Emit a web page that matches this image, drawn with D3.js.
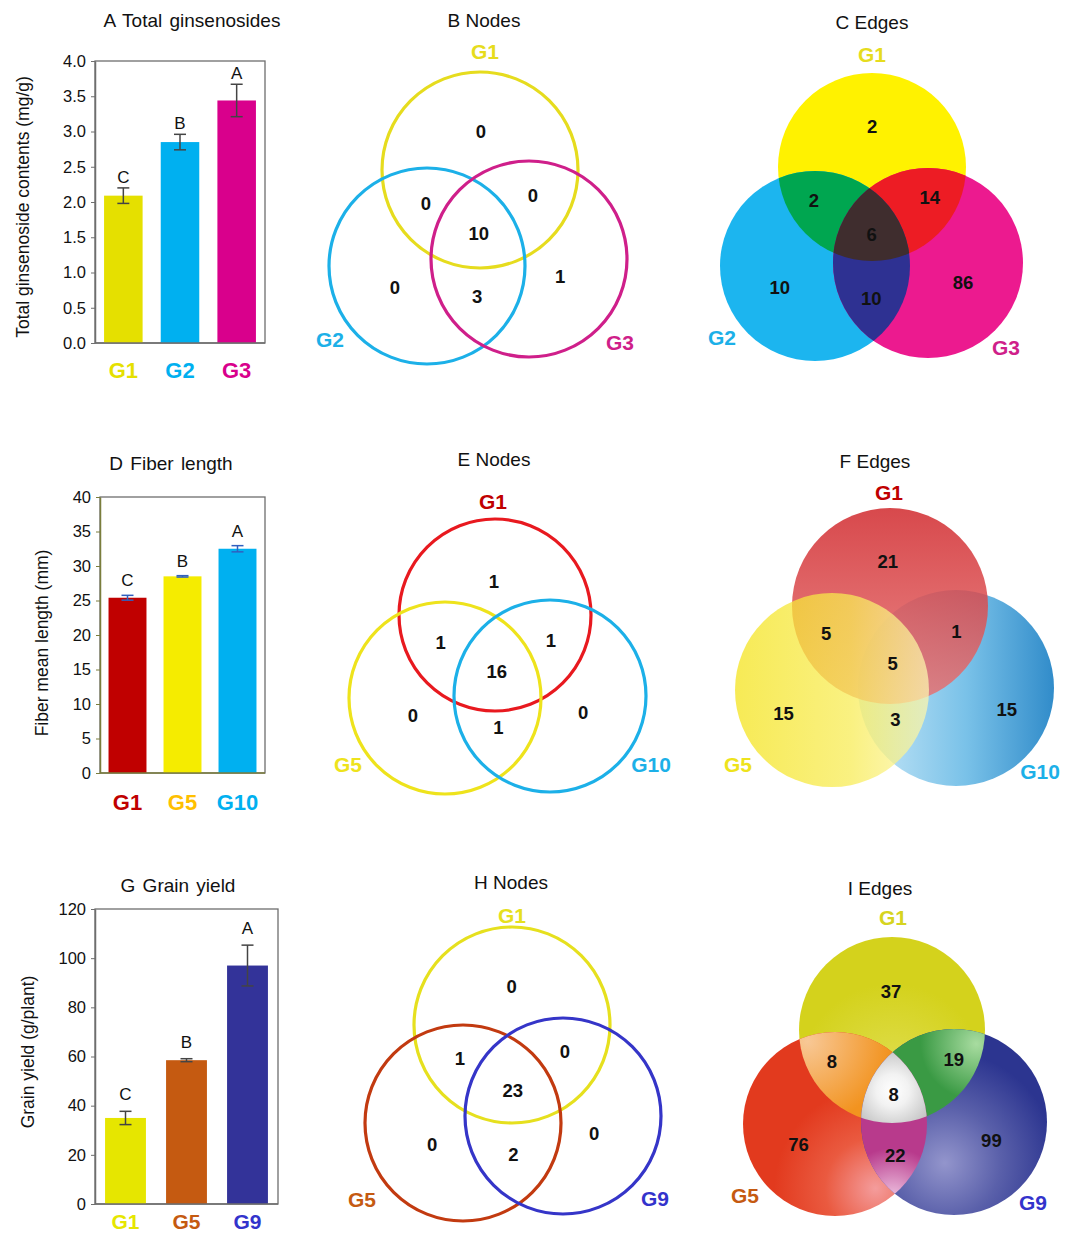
<!DOCTYPE html>
<html><head><meta charset="utf-8">
<script src="https://cdn.jsdelivr.net/npm/d3@7"></script>
<style>
body{margin:0;background:#fff}
svg{display:block}
text{font-family:"Liberation Sans",Arial,sans-serif}
</style>
</head><body>
<svg id="chart" width="1077" height="1236"></svg>
<script>
// ---------- DATA ----------
// Panel A: Total ginsenosides
const aCategories = ["G1", "G2", "G3"];
const aValues = [2.09, 2.85, 3.44];
const aErrors = [0.11, 0.11, 0.23];
const aLetters = ["C", "B", "A"];
const aTicks = [0, 0.5, 1.0, 1.5, 2.0, 2.5, 3.0, 3.5, 4.0];
// Panel D: Fiber length
const dCategories = ["G1", "G5", "G10"];
const dValues = [25.4, 28.5, 32.5];
const dErrors = [0.35, 0.1, 0.45];
const dLetters = ["C", "B", "A"];
const dTicks = [0, 5, 10, 15, 20, 25, 30, 35, 40];
// Panel G: Grain yield
const gCategories = ["G1", "G5", "G9"];
const gValues = [35, 58.5, 97];
const gErrors = [2.7, 0.6, 8.3];
const gLetters = ["C", "B", "A"];
const gTicks = [0, 20, 40, 60, 80, 100, 120];

// Venn counts, region order: [only1, only2, only3, 1&2, 1&3, 2&3, all]
const bSets = ["G1", "G2", "G3"];
const bCounts = [0, 0, 1, 0, 0, 3, 10];
const cSets = ["G1", "G2", "G3"];
const cCounts = [2, 10, 86, 2, 14, 10, 6];
const eSets = ["G1", "G5", "G10"];
const eCounts = [1, 0, 0, 1, 1, 1, 16];
const fSets = ["G1", "G5", "G10"];
const fCounts = [21, 15, 15, 5, 1, 3, 5];
const hSets = ["G1", "G5", "G9"];
const hCounts = [0, 0, 0, 1, 0, 2, 23];
const iSets = ["G1", "G5", "G9"];
const iCounts = [37, 76, 99, 8, 19, 22, 8];

// ---------- DRAWING ----------
const svg = d3.select("#chart");
svg.append("rect").attr("width", 1077).attr("height", 1236).attr("fill", "#fff");
const defs = svg.append("defs");
const FONT = '"Liberation Sans",Arial,sans-serif';

function barPanel(cfg) {
  const g = svg.append("g");
  const x = d3.scaleBand().domain(cfg.categories).range([cfg.x0, cfg.x1])
    .paddingInner(cfg.pad).paddingOuter(cfg.pad / 2);
  const y = d3.scaleLinear().domain([cfg.ticks[0], cfg.ticks[cfg.ticks.length - 1]]).range([cfg.y1, cfg.y0]);
  g.append("rect").attr("x", cfg.x0).attr("y", cfg.y0)
    .attr("width", cfg.x1 - cfg.x0).attr("height", cfg.y1 - cfg.y0)
    .attr("fill", "none").attr("stroke", "#6e6e6e").attr("stroke-width", 1.3);
  g.selectAll("rect.bar").data(cfg.values).enter().append("rect").attr("class", "bar")
    .attr("x", (d, i) => x(cfg.categories[i]))
    .attr("y", d => y(d))
    .attr("width", x.bandwidth())
    .attr("height", d => y(0) - y(d))
    .attr("fill", (d, i) => cfg.colors[i]);
  const ax = g.append("g").attr("transform", `translate(${cfg.x0},0)`)
    .call(d3.axisLeft(y).tickValues(cfg.ticks).tickFormat(cfg.fmt).tickSize(4).tickSizeOuter(0).tickPadding(5));
  ax.select(".domain").attr("stroke", cfg.axisColor).attr("stroke-width", 1.5);
  ax.selectAll(".tick line").attr("stroke", cfg.axisColor);
  ax.selectAll(".tick text").attr("font-size", 16.5).attr("fill", "#111").attr("font-family", FONT);
  g.append("line").attr("x1", cfg.x0).attr("x2", cfg.x1).attr("y1", cfg.y1).attr("y2", cfg.y1)
    .attr("stroke", cfg.axisColor).attr("stroke-width", 1.5);
  cfg.values.forEach((v, i) => {
    const cx = x(cfg.categories[i]) + x.bandwidth() / 2;
    const e = cfg.errors[i];
    const eg = g.append("g").attr("stroke", cfg.errColor).attr("stroke-width", 1.5);
    eg.append("line").attr("x1", cx).attr("x2", cx).attr("y1", y(v - e)).attr("y2", y(v + e));
    [v - e, v + e].forEach(t => eg.append("line").attr("x1", cx - 6).attr("x2", cx + 6).attr("y1", y(t)).attr("y2", y(t)));
    g.append("text").attr("x", cx).attr("y", y(v + e) - cfg.letterGap)
      .attr("text-anchor", "middle").attr("font-size", 17).attr("fill", "#111").text(cfg.letters[i]);
    g.append("text").attr("x", cx).attr("y", cfg.catY)
      .attr("text-anchor", "middle").attr("font-size", cfg.catSize || 22).attr("font-weight", "bold")
      .attr("fill", cfg.labelColors[i]).text(cfg.categories[i]);
  });
  g.append("text").attr("x", cfg.titleX).attr("y", cfg.titleY).attr("text-anchor", "middle")
    .attr("font-size", 19).attr("fill", "#111").attr("word-spacing", 2).text(cfg.title);
  g.append("text").attr("transform", `translate(${cfg.ylabX},${cfg.ylabY}) rotate(-90)`)
    .attr("text-anchor", "middle").attr("font-size", 17.5).attr("fill", "#111").text(cfg.ylab);
}

barPanel({
  categories: aCategories, values: aValues, errors: aErrors, letters: aLetters, ticks: aTicks,
  fmt: d3.format(".1f"), x0: 95, x1: 265, y0: 61, y1: 343, pad: 0.32,
  colors: ["#e5e000", "#00b0f0", "#d9008c"], labelColors: ["#e5e000", "#00b0f0", "#d9008c"],
  axisColor: "#6e6e6e", errColor: "#444", letterGap: 5, catY: 378,
  title: "A Total ginsenosides", titleX: 192, titleY: 27,
  ylab: "Total ginsenoside contents (mg/g)", ylabX: 29, ylabY: 207
});
barPanel({
  categories: dCategories, values: dValues, errors: dErrors, letters: dLetters, ticks: dTicks,
  fmt: d3.format("d"), x0: 100, x1: 265, y0: 497, y1: 773, pad: 0.31,
  colors: ["#c00000", "#f5ec00", "#00b0f0"], labelColors: ["#c00000", "#ffc000", "#00b0f0"],
  axisColor: "#7a7d3c", errColor: "#3060c0", letterGap: 9, catY: 810,
  title: "D Fiber length", titleX: 171, titleY: 470,
  ylab: "Fiber mean length (mm)", ylabX: 48, ylabY: 643
});
barPanel({
  categories: gCategories, values: gValues, errors: gErrors, letters: gLetters, ticks: gTicks,
  fmt: d3.format("d"), x0: 95, x1: 278, y0: 909, y1: 1204, pad: 0.33,
  colors: ["#e6e600", "#c55a11", "#333399"], labelColors: ["#e6e600", "#c55a11", "#3333cc"],
  axisColor: "#6e6e6e", errColor: "#444", letterGap: 11, catY: 1229, catSize: 21,
  title: "G Grain yield", titleX: 178, titleY: 892,
  ylab: "Grain yield (g/plant)", ylabX: 34, ylabY: 1052
});

// ---------- VENN ----------
let uid = 0;
function radial(stops, cx, cy, r) {
  const id = "rg" + (uid++);
  const gr = defs.append("radialGradient").attr("id", id).attr("cx", cx).attr("cy", cy).attr("r", r);
  stops.forEach(s => gr.append("stop").attr("offset", s[0]).attr("stop-color", s[1]));
  return `url(#${id})`;
}
function linear(stops, x1, y1, x2, y2) {
  const id = "lg" + (uid++);
  const gr = defs.append("linearGradient").attr("id", id).attr("x1", x1).attr("y1", y1).attr("x2", x2).attr("y2", y2);
  stops.forEach(s => gr.append("stop").attr("offset", s[0]).attr("stop-color", s[1]));
  return `url(#${id})`;
}

function venn(cfg) {
  const g = svg.append("g");
  const C = cfg.circles; // [cx, cy, r]
  const clipIds = C.map(c => {
    const id = "clip" + (uid++);
    defs.append("clipPath").attr("id", id).append("circle").attr("cx", c[0]).attr("cy", c[1]).attr("r", c[2]);
    return id;
  });
  const circ = (sel, c) => sel.append("circle").attr("cx", c[0]).attr("cy", c[1]).attr("r", c[2]);

  if (cfg.mode === "outline") {
    C.forEach((c, i) => circ(g, c).attr("fill", "none").attr("stroke", cfg.colors[i]).attr("stroke-width", 3.2));
  } else if (cfg.mode === "alpha") {
    cfg.order.forEach(i => circ(g, C[i]).attr("fill", cfg.fills[i]).attr("opacity", cfg.opacity[i]));
  } else {
    const f = cfg.fills;
    C.forEach((c, i) => circ(g, c).attr("fill", f[i]));
    [["01", 0, 1], ["02", 0, 2], ["12", 1, 2]].forEach(([k, a, b]) => {
      circ(g.append("g").attr("clip-path", `url(#${clipIds[a]})`), C[b]).attr("fill", f[k]);
    });
    circ(g.append("g").attr("clip-path", `url(#${clipIds[0]})`).append("g").attr("clip-path", `url(#${clipIds[1]})`), C[2])
      .attr("fill", f["012"]);
  }

  const cen = [d3.mean(C, c => c[0]), d3.mean(C, c => c[1])];
  const only = i => [cen[0] + cfg.kOnly * (C[i][0] - cen[0]), cen[1] + cfg.kOnly * (C[i][1] - cen[1])];
  const pair = (a, b) => {
    const m = [(C[a][0] + C[b][0]) / 2, (C[a][1] + C[b][1]) / 2];
    return [cen[0] + cfg.kPair * (m[0] - cen[0]), cen[1] + cfg.kPair * (m[1] - cen[1])];
  };
  const pos = [only(0), only(1), only(2), pair(0, 1), pair(0, 2), pair(1, 2), [cen[0], cen[1] + 2]];
  g.selectAll("text.cnt").data(cfg.counts).enter().append("text").attr("class", "cnt")
    .attr("x", (d, i) => pos[i][0]).attr("y", (d, i) => pos[i][1]).attr("dy", "0.36em")
    .attr("text-anchor", "middle").attr("font-size", 18.5).attr("font-weight", "bold").attr("fill", "#111")
    .text(d => d);

  cfg.sets.forEach((s, i) => {
    g.append("text").attr("x", C[i][0] + cfg.labelOff[i][0]).attr("y", C[i][1] + cfg.labelOff[i][1])
      .attr("text-anchor", "middle")
      .attr("font-size", 21).attr("font-weight", "bold").attr("fill", cfg.labelColors[i]).text(s);
  });
  g.append("text").attr("x", cfg.titleX).attr("y", cfg.titleY).attr("text-anchor", "middle")
    .attr("font-size", 19).attr("fill", "#111").text(cfg.title);
}

// B Nodes
venn({
  mode: "outline", sets: bSets, counts: bCounts, title: "B Nodes", titleX: 484, titleY: 27,
  circles: [[480, 170, 98], [427, 266, 98], [529, 259, 98]],
  colors: ["#e6dc1e", "#1cb0e8", "#cf1f8a"], labelColors: ["#e6dc1e", "#1cb0e8", "#cf1f8a"],
  labelOff: [[5, -111], [-97, 81], [91, 91]],
  kOnly: 1.62, kPair: 2.1
});
// C Edges
venn({
  mode: "regions", sets: cSets, counts: cCounts, title: "C Edges", titleX: 872, titleY: 29,
  circles: [[872, 167, 94], [815, 266, 95], [928, 263, 95]],
  fills: { 0: "#fff200", 1: "#1cb5ef", 2: "#ec1a8f", "01": "#00a650", "02": "#ed1c24", "12": "#2e3192", "012": "#3f2d2e" },
  labelColors: ["#e6dc1e", "#1cb0e8", "#cf1f8a"],
  labelOff: [[0, -105], [-93, 79], [78, 92]],
  kOnly: 1.62, kPair: 2.05
});
// E Nodes
venn({
  mode: "outline", sets: eSets, counts: eCounts, title: "E Nodes", titleX: 494, titleY: 466,
  circles: [[495, 615, 96], [445, 698, 96], [550, 696, 96]],
  colors: ["#e8191f", "#eee31c", "#1cb0e8"], labelColors: ["#c00000", "#eee31c", "#1cb0e8"],
  labelOff: [[-2, -106], [-97, 74], [101, 76]],
  kOnly: 1.62, kPair: 2.1
});
// F Edges
venn({
  mode: "alpha", sets: fSets, counts: fCounts, title: "F Edges", titleX: 875, titleY: 468,
  circles: [[890, 606, 98], [832, 690, 97], [956, 688, 98]],
  order: [2, 0, 1], opacity: [0.84, 0.74, 0.9],
  fills: [
    linear([[0, "#d0262a"], [1, "#e77474"]], 0, 0, 0, 1),
    linear([[0, "#f4e31a"], [0.6, "#f8ec55"], [1, "#fcf6b0"]], 0, 0, 1, 0),
    linear([[0, "#c4e6f7"], [0.55, "#6bbbe6"], [1, "#1a7fc4"]], 0, 0, 1, 0)
  ],
  labelColors: ["#c00000", "#eee31c", "#1cb0e8"],
  labelOff: [[-1, -106], [-94, 82], [84, 91]],
  kOnly: 1.8, kPair: 2.1
});
// H Nodes
venn({
  mode: "outline", sets: hSets, counts: hCounts, title: "H Nodes", titleX: 511, titleY: 889,
  circles: [[512, 1025, 98], [463, 1123, 98], [563, 1116, 98]],
  colors: ["#e6e01e", "#c23a10", "#3535c8"], labelColors: ["#e6e01e", "#c55a11", "#3333cc"],
  labelOff: [[0, -102], [-101, 84], [92, 90]],
  kOnly: 1.62, kPair: 2.1
});
// I Edges
venn({
  mode: "regions", sets: iSets, counts: iCounts, title: "I Edges", titleX: 880, titleY: 895,
  circles: [[892, 1030, 93], [835, 1124, 92], [954, 1122, 93]],
  fills: {
    0: radial([[0, "#e0de50"], [1, "#d4d21c"]], 0.5, 0.75, 0.5),
    1: radial([[0, "#f49c9c"], [0.5, "#ea5a40"], [1, "#e23a1e"]], 0.72, 0.85, 0.55),
    2: radial([[0, "#9395cc"], [0.5, "#5a60aa"], [1, "#2c3590"]], 0.45, 0.72, 0.6),
    "01": radial([[0, "#f8c896"], [1, "#f2931f"]], 0.35, 0.05, 0.45),
    "02": radial([[0, "#a8dca0"], [1, "#3a9a44"]], 0.62, 0.08, 0.3),
    "12": radial([[0, "#f0c8e4"], [1, "#b83a8c"]], 0.17, 0.92, 0.28),
    "012": radial([[0, "#ffffff"], [0.4, "#f2f2f2"], [1, "#c6c6c6"]], 0.17, 0.33, 0.22)
  },
  labelColors: ["#d6d420", "#c55a11", "#3333cc"],
  labelOff: [[1, -105], [-90, 79], [79, 88]],
  kOnly: 1.62, kPair: 2.05
});
</script>
</body></html>
